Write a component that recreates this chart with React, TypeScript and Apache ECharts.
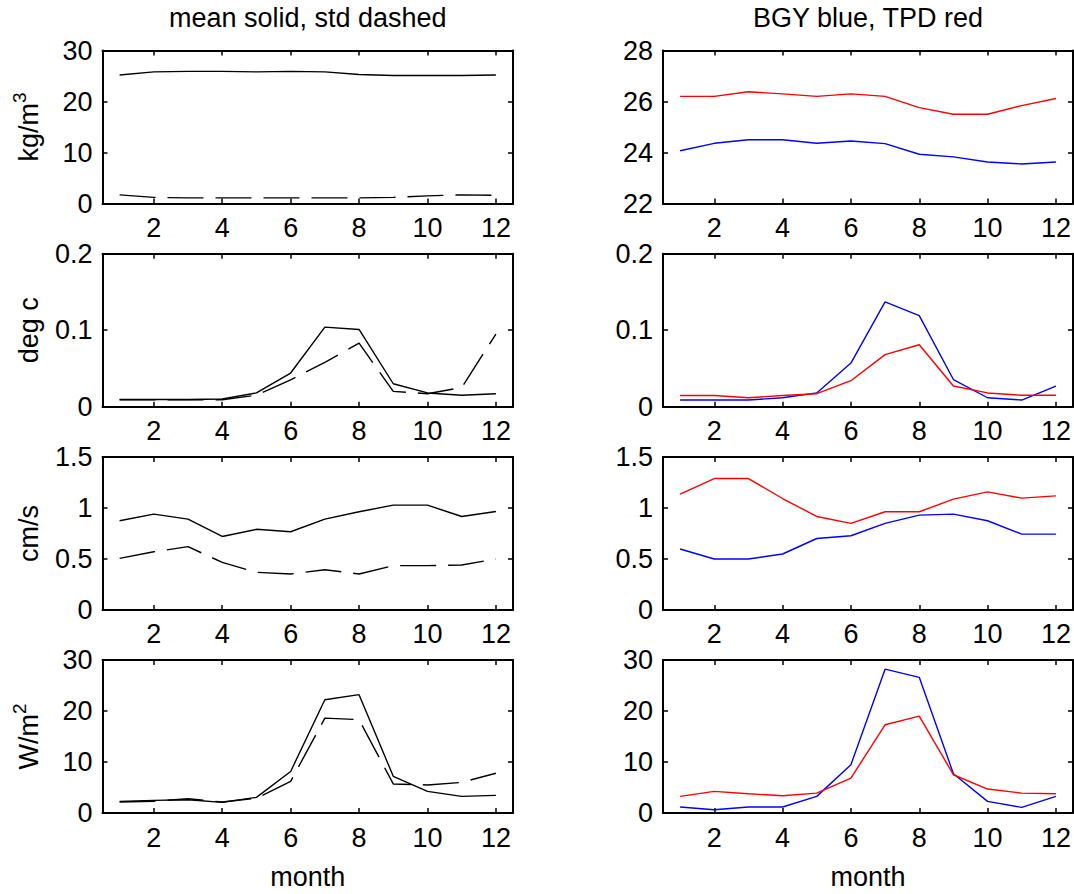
import React, { useEffect, useRef } from 'react';
import * as echarts from 'echarts';

// ---------------- data ----------------
const months = [1, 2, 3, 4, 5, 6, 7, 8, 9, 10, 11, 12];

const densityMean = [25.2, 25.8, 25.9, 25.9, 25.8, 25.9, 25.8, 25.3, 25.1, 25.1, 25.1, 25.2];
const densityStd = [1.7, 1.2, 1.1, 1.1, 1.1, 1.1, 1.1, 1.1, 1.2, 1.5, 1.7, 1.6];
const densityBGY = [24.07, 24.36, 24.5, 24.5, 24.36, 24.45, 24.35, 23.93, 23.83, 23.63, 23.55, 23.63];
const densityTPD = [26.2, 26.2, 26.38, 26.3, 26.2, 26.3, 26.2, 25.76, 25.5, 25.5, 25.84, 26.12];

const tempMean = [0.0095, 0.0095, 0.0095, 0.01, 0.018, 0.044, 0.104, 0.101, 0.03, 0.018, 0.015, 0.017];
const tempStd = [0.009, 0.009, 0.009, 0.009, 0.015, 0.035, 0.058, 0.083, 0.02, 0.017, 0.025, 0.095];
const tempBGY = [0.0087, 0.0087, 0.0087, 0.0117, 0.018, 0.057, 0.137, 0.119, 0.0355, 0.0117, 0.0087, 0.027];
const tempTPD = [0.0147, 0.0147, 0.0117, 0.0147, 0.017, 0.034, 0.068, 0.081, 0.027, 0.018, 0.015, 0.015];

const velMean = [0.874, 0.939, 0.89, 0.72, 0.79, 0.766, 0.89, 0.962, 1.027, 1.027, 0.916, 0.965];
const velStd = [0.505, 0.57, 0.62, 0.466, 0.368, 0.352, 0.394, 0.352, 0.434, 0.434, 0.44, 0.5];
const velBGY = [0.597, 0.499, 0.499, 0.548, 0.7, 0.727, 0.848, 0.929, 0.939, 0.874, 0.743, 0.743];
const velTPD = [1.135, 1.288, 1.288, 1.092, 0.916, 0.848, 0.962, 0.962, 1.086, 1.157, 1.096, 1.118];

const heatMean = [2.28, 2.48, 2.6, 2.09, 3.07, 8.15, 22.2, 23.2, 7.2, 4.24, 3.26, 3.46];
const heatStd = [2.15, 2.3, 2.8, 2.15, 2.9, 6.2, 18.6, 18.3, 5.7, 5.5, 6.0, 7.8];
const heatBGY = [1.17, 0.65, 1.17, 1.17, 3.26, 9.46, 28.2, 26.6, 7.7, 2.28, 1.1, 3.26];
const heatTPD = [3.26, 4.24, 3.78, 3.39, 3.9, 6.85, 17.3, 19.0, 7.5, 4.7, 3.9, 3.78];

const leftTitle = 'mean solid, std dashed';
const rightTitle = 'BGY blue, TPD red';
const xName = 'month';
const yNames = [
  { main: 'kg/m', sup: '3' },
  { main: 'deg c', sup: '' },
  { main: 'cm/s', sup: '' },
  { main: 'W/m', sup: '2' },
];
const yMin = [[0, 22], [0, 0], [0, 0], [0, 0]];
const yMax = [[30, 28], [0.2, 0.2], [1.5, 1.5], [30, 30]];
const yStep = [[10, 2], [0.1, 0.1], [0.5, 0.5], [10, 10]];

// ---------------- layout / style ----------------
const FONT = 'Liberation Sans, Arial, Helvetica, sans-serif';
const FS = 27;
const BLACK = '#000000';
const BLUE = '#0000ff';
const RED = '#ff0000';
const colLeft = [102.5, 663];
const colWidth = [410.5, 410];
const rowTop = [50.5, 253.7, 456.9, 660];
const rowH = 153;
const DASH = [36, 12];

type S = { data: number[]; color: string; dashed: boolean };
const panelSeries: S[][][] = [
  [
    [{ data: densityMean, color: BLACK, dashed: false }, { data: densityStd, color: BLACK, dashed: true }],
    [{ data: densityBGY, color: BLUE, dashed: false }, { data: densityTPD, color: RED, dashed: false }],
  ],
  [
    [{ data: tempMean, color: BLACK, dashed: false }, { data: tempStd, color: BLACK, dashed: true }],
    [{ data: tempBGY, color: BLUE, dashed: false }, { data: tempTPD, color: RED, dashed: false }],
  ],
  [
    [{ data: velMean, color: BLACK, dashed: false }, { data: velStd, color: BLACK, dashed: true }],
    [{ data: velBGY, color: BLUE, dashed: false }, { data: velTPD, color: RED, dashed: false }],
  ],
  [
    [{ data: heatMean, color: BLACK, dashed: false }, { data: heatStd, color: BLACK, dashed: true }],
    [{ data: heatBGY, color: BLUE, dashed: false }, { data: heatTPD, color: RED, dashed: false }],
  ],
];

function buildOption() {
  const grid: any[] = [];
  const xAxis: any[] = [];
  const yAxis: any[] = [];
  const series: any[] = [];
  const axisLine = { show: true, onZero: false, lineStyle: { color: BLACK, width: 2 } };
  const axisTick = { show: true, inside: true, length: 5, lineStyle: { color: BLACK, width: 1.5 } };
  let g = 0;
  for (let r = 0; r < 4; r++) {
    for (let c = 0; c < 2; c++) {
      grid.push({ left: colLeft[c], top: rowTop[r], width: colWidth[c], height: rowH, containLabel: false });
      const xBase = {
        gridIndex: g,
        type: 'value',
        min: 0.5,
        max: 12.5,
        splitNumber: 6,
        axisLine,
        axisTick,
        splitLine: { show: false },
      };
      xAxis.push({
        ...xBase,
        position: 'bottom',
        axisLabel: {
          show: true,
          color: BLACK,
          fontSize: FS,
          fontFamily: FONT,
          margin: 11,
          showMinLabel: false,
          showMaxLabel: false,
          formatter: (v: number) => (Number.isInteger(v) ? String(v) : ''),
        },
      });
      xAxis.push({ ...xBase, position: 'top', axisLabel: { show: false } });
      const yBase = {
        gridIndex: g,
        type: 'value',
        min: yMin[r][c],
        max: yMax[r][c],
        interval: yStep[r][c],
        axisLine,
        axisTick,
        splitLine: { show: false },
      };
      yAxis.push({
        ...yBase,
        position: 'left',
        axisLabel: { show: true, color: BLACK, fontSize: FS, fontFamily: FONT, margin: 10 },
      });
      yAxis.push({ ...yBase, position: 'right', axisLabel: { show: false } });
      panelSeries[r][c].forEach((s) => {
        series.push({
          type: 'line',
          xAxisIndex: 2 * g,
          yAxisIndex: 2 * g,
          data: months.map((m, k) => [m, s.data[k]]),
          symbol: 'none',
          silent: true,
          lineStyle: { color: s.color, width: 1.4, type: s.dashed ? DASH : 'solid' },
        });
      });
      g++;
    }
  }

  const graphic: any[] = [];
  const titleY = 17.5;
  const centers = [colLeft[0] + colWidth[0] / 2, colLeft[1] + colWidth[1] / 2];
  [leftTitle, rightTitle].forEach((t, c) => {
    graphic.push({
      type: 'text',
      x: centers[c],
      y: titleY,
      style: { text: t, fill: BLACK, fontSize: FS, fontFamily: FONT, align: 'center', verticalAlign: 'middle' },
    });
    graphic.push({
      type: 'text',
      x: centers[c],
      y: 877.3,
      style: { text: xName, fill: BLACK, fontSize: FS, fontFamily: FONT, align: 'center', verticalAlign: 'middle' },
    });
  });
  yNames.forEach((n, r) => {
    const text = n.sup ? `{b|${n.main}}{s|${n.sup}}` : `{b|${n.main}}`;
    graphic.push({
      type: 'text',
      x: 28.5,
      y: rowTop[r] + rowH / 2,
      rotation: Math.PI / 2,
      style: {
        text,
        fill: BLACK,
        fontSize: FS,
        fontFamily: FONT,
        align: 'center',
        verticalAlign: 'middle',
        rich: {
          b: { fontSize: FS, fontFamily: FONT, lineHeight: 38, fill: BLACK },
          s: { fontSize: 19, fontFamily: FONT, lineHeight: 19, verticalAlign: 'top', fill: BLACK },
        },
      },
    });
  });

  return {
    animation: false,
    backgroundColor: '#ffffff',
    textStyle: { fontFamily: FONT, color: BLACK },
    grid,
    xAxis,
    yAxis,
    series,
    graphic,
  };
}

export default function App() {
  const ref = useRef<HTMLDivElement>(null);
  useEffect(() => {
    if (!ref.current) return;
    const chart = echarts.init(ref.current, undefined, { renderer: 'svg' });
    chart.setOption(buildOption() as any);
    return () => chart.dispose();
  }, []);
  return (
    <div
      ref={ref}
      style={{ position: 'absolute', left: 0, top: 0, width: 1074, height: 894, background: '#fff' }}
    />
  );
}
